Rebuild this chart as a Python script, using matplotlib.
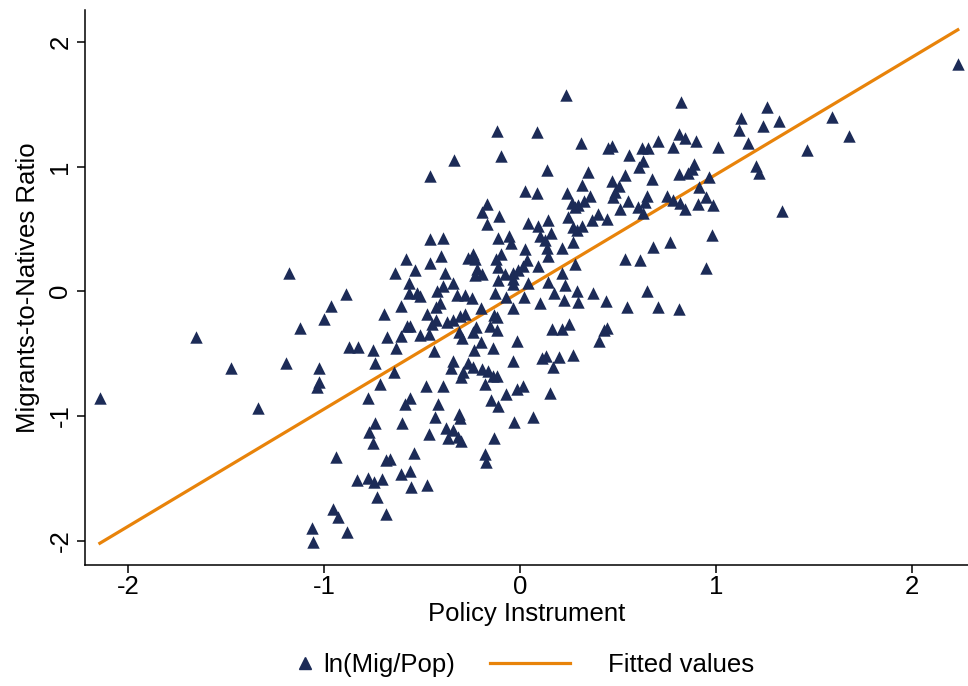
import numpy as np
import matplotlib
matplotlib.use("Agg")
import matplotlib.pyplot as plt
from matplotlib.lines import Line2D

plt.rcParams['font.family'] = ['Liberation Sans', 'DejaVu Sans']

# Policy instrument (x) and ln(Mig/Pop) (y)
policy = [
    -2.143, -1.653, -1.474, -1.337, -1.179, -1.194, -1.122, -1.061, -1.056,
    -0.582, -0.638, -0.536, -0.566, -0.888, -0.566, -0.526, -0.964, -0.607, -1.000,
    -0.694, -0.577, -0.561, -0.679, -0.607, -0.510, -0.872, -0.827, -0.750, -0.633,
    -0.740, -1.026,
    -0.643, -1.026, -1.036, -0.714, -0.480, -0.776, -0.561, -0.587, -0.740, -0.770,
    -0.602, -0.464, -0.750, -0.939, -0.684, -0.663, -0.541, -0.607, -0.561, -0.832,
    -0.776, -0.745, -0.704, -0.474, -0.556, -0.730, -0.954, -0.929, -0.684, -0.883,
    -0.337, -0.459, 0.026, -0.168, -0.194, -0.107, -0.168, 0.041, -0.459, -0.393,
    -0.112, -0.056, -0.046, 0.026, -0.459, -0.403, -0.265, -0.240, -0.230, -0.122,
    -0.097, -0.219, -0.230, -0.194, -0.112, -0.077, -0.036, -0.010, 0.015, 0.036,
    -0.383, -0.342, -0.393, -0.423, -0.112, -0.036, -0.036, -0.128, -0.321, -0.281,
    -0.245, -0.408, -0.429, -0.199, -0.071, 0.020, -0.036, -0.510,
    -0.474, -0.449, -0.429, -0.372, -0.342, -0.306, -0.281, -0.464, -0.311, -0.296,
    -0.240, -0.224, -0.153, -0.133, -0.117, -0.117, -0.199, -0.235, -0.138, -0.015,
    -0.439, -0.342, -0.352, -0.265, -0.240, -0.291, -0.301, -0.194, -0.163, -0.138,
    -0.117, -0.179, -0.036, -0.393, -0.071, -0.015, 0.015, -0.148, -0.112, -0.418,
    -0.434, -0.311, -0.306, -0.031, -0.378, -0.342, -0.367, -0.316, -0.301, -0.133,
    -0.179, -0.173,
    0.087, 0.311, 0.449, 0.469, 0.556, 0.138, 0.347, 0.536, 0.469, 0.505,
    0.087, 0.316, 0.240, 0.485, 0.474, 0.357, 0.327, 0.551, 0.265, 0.281,
    0.296, 0.510, 0.398, 0.444, 0.367, 0.245, 0.143, 0.092, 0.270, 0.316,
    0.291, 0.158, 0.102, 0.128, 0.270, 0.214, 0.138, 0.143, 0.536, 0.281, 0.092,
    0.143, 0.214, 0.230, 0.041, 0.173, 0.102, 0.224, 0.291, 0.296, 0.372,
    0.439, 0.546, 0.163, 0.214, 0.250, 0.444, 0.429, 0.403, 0.112, 0.133,
    0.199, 0.270, 0.168, 0.153, 0.066,
    0.821, 1.128, 1.117, 1.163, 0.811, 0.842, 0.898, 0.704, 0.622, 0.653,
    0.781, 1.010, 0.628, 0.607, 0.888, 0.878, 0.857, 0.811, 0.673, 0.964,
    0.913, 0.750, 0.648, 0.638, 0.781, 0.949, 0.816, 0.908, 0.985, 0.842,
    0.602, 0.628,
    0.980, 0.765, 0.679, 0.612, 0.949, 0.648, 0.704, 0.811,
    2.235, 1.260, 1.321, 1.240, 1.592, 1.679, 1.464, 1.204, 1.219, 1.337,
    -0.117, -0.097, 0.235,
]
mig_ratio = [
    -0.858, -0.369, -0.617, -0.938, 0.144, -0.577, -0.297, -1.900, -2.012,
    0.257, 0.144, 0.168, 0.064, -0.024, -0.016, -0.016, -0.120, -0.120, -0.224,
    -0.184, -0.281, -0.281, -0.369, -0.361, -0.353, -0.449, -0.449, -0.473, -0.457,
    -0.577, -0.617,
    -0.649, -0.729, -0.770, -0.745, -0.762, -0.858, -0.858, -0.906, -1.058, -1.130,
    -1.058, -1.146, -1.218, -1.331, -1.355, -1.347, -1.299, -1.467, -1.443, -1.515,
    -1.499, -1.531, -1.507, -1.555, -1.571, -1.651, -1.747, -1.812, -1.788, -1.932,
    1.050, 0.922, 0.802, 0.697, 0.633, 0.601, 0.537, 0.545, 0.417, 0.425,
    0.425, 0.441, 0.385, 0.337, 0.224, 0.281, 0.265, 0.297, 0.257, 0.257,
    0.297, 0.176, 0.128, 0.136, 0.192, 0.136, 0.144, 0.168, 0.200, 0.248,
    0.144, 0.064, 0.040, 0.000, 0.088, 0.096, 0.056, -0.016, -0.032, -0.032,
    -0.056, -0.096, -0.128, -0.136, -0.048, -0.048, -0.136, -0.040,
    -0.184, -0.265, -0.232, -0.249, -0.232, -0.200, -0.184, -0.345, -0.329, -0.377,
    -0.329, -0.289, -0.281, -0.192, -0.208, -0.313, -0.409, -0.473, -0.457, -0.401,
    -0.481, -0.561, -0.617, -0.577, -0.609, -0.649, -0.689, -0.625, -0.641, -0.681,
    -0.681, -0.745, -0.561, -0.762, -0.826, -0.786, -0.762, -0.874, -0.922, -0.906,
    -1.010, -0.986, -1.018, -1.050, -1.098, -1.114, -1.178, -1.170, -1.202, -1.178,
    -1.307, -1.371,
    1.275, 1.186, 1.146, 1.162, 1.090, 0.970, 0.954, 0.930, 0.882, 0.842,
    0.786, 0.850, 0.786, 0.794, 0.754, 0.762, 0.721, 0.721, 0.705, 0.673,
    0.689, 0.657, 0.617, 0.577, 0.569, 0.593, 0.569, 0.521, 0.513, 0.521,
    0.489, 0.465, 0.441, 0.409, 0.393, 0.345, 0.345, 0.281, 0.257, 0.216, 0.200,
    0.072, 0.144, 0.048, 0.064, -0.016, -0.096, -0.072, 0.000, -0.088, -0.016,
    -0.080, -0.128, -0.305, -0.305, -0.265, -0.297, -0.313, -0.401, -0.537, -0.521,
    -0.529, -0.513, -0.609, -0.818, -1.010,
    1.515, 1.387, 1.291, 1.186, 1.259, 1.226, 1.202, 1.202, 1.146, 1.146,
    1.154, 1.154, 1.042, 0.994, 1.018, 0.978, 0.946, 0.938, 0.898, 0.914,
    0.834, 0.762, 0.762, 0.713, 0.729, 0.754, 0.705, 0.697, 0.689, 0.657,
    0.673, 0.625,
    0.449, 0.393, 0.353, 0.248, 0.184, 0.000, -0.128, -0.144,
    1.820, 1.475, 1.363, 1.323, 1.395, 1.242, 1.130, 1.002, 0.946, 0.641,
    1.283, 1.082, 1.571,
]

# Linear fit
fit_intercept = -0.005
fit_slope = 0.940

x_ticks = [-2, -1, 0, 1, 2]
y_ticks = [-2, -1, 0, 1, 2]

navy = '#1C2B57'
orange = '#E8830A'
fs = 18.5

fig = plt.figure(figsize=(9.68, 6.86), dpi=100)
ax = fig.add_axes([0.0878, 0.176, 0.912, 0.809])

x = np.array(policy)
y = np.array(mig_ratio)
ax.scatter(x, y, marker='^', s=80, color=navy, linewidths=0, zorder=3)
xf = np.array([x.min(), x.max()])
ax.plot(xf, fit_intercept + fit_slope * xf, color=orange, lw=2.3, zorder=2)

ax.set_xlim(-2.219, 2.286)
ax.set_ylim(-2.196, 2.252)
ax.set_xticks(x_ticks)
ax.set_yticks(y_ticks)
ax.set_xticklabels([str(t) for t in x_ticks], fontsize=fs)
ax.set_yticklabels([str(t) for t in y_ticks], fontsize=fs, rotation=90, va='center')
ax.tick_params(axis='both', length=6, width=1.1, direction='out')
ax.tick_params(axis='x', pad=1)
ax.tick_params(axis='y', pad=3)

for s in ['top', 'right']:
    ax.spines[s].set_visible(False)
for s in ['left', 'bottom']:
    ax.spines[s].set_linewidth(1.1)

ax.set_xlabel('Policy Instrument', fontsize=fs, labelpad=2)
ax.set_ylabel('Migrants-to-Natives Ratio', fontsize=fs, labelpad=6)

h1 = Line2D([], [], marker='^', linestyle='none', color=navy, markersize=8.9)
h2 = Line2D([], [], color=orange, lw=2.3)
leg1 = fig.legend([h1], ['ln(Mig/Pop)'], loc='center left',
                  bbox_to_anchor=(292 / 968, 1 - 665 / 686), frameon=False,
                  fontsize=fs, handlelength=1.0, handletextpad=0.2,
                  borderpad=0, borderaxespad=0)
leg2 = fig.legend([h2], ['Fitted values'], loc='center left',
                  bbox_to_anchor=(490 / 968, 1 - 665 / 686), frameon=False,
                  fontsize=fs, handlelength=3.1, handletextpad=1.5,
                  borderpad=0, borderaxespad=0)

fig.savefig('out.png', dpi=100)
